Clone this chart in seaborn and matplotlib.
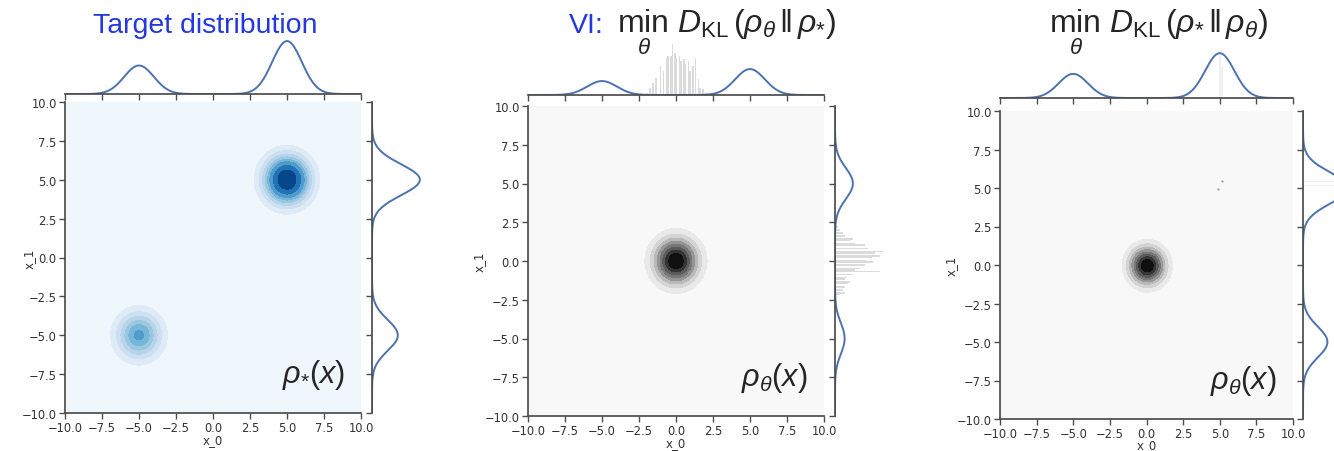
import numpy as np
import matplotlib
matplotlib.use("Agg")
import matplotlib.pyplot as plt
import seaborn as sns

# ---- values ----
# target distribution: two round gaussian modes
target_cx = [-5.0, 5.0]
target_cy = [-5.0, 5.0]
target_w = [0.35, 0.65]
target_sd = [1.0, 1.0]

# VI fit (reverse KL): one mode in the middle
vi_cx = [0.0]
vi_cy = [0.0]
vi_w = [1.0]
vi_sd = [1.0]

# forward KL fit
fk_cx = [0.05]
fk_cy = [-0.05]
fk_w = [1.0]
fk_sd = [0.82]

# sample histograms of the VI fit (density units)
vi_hist_x = [-1.99, -1.76, -1.54, -1.31, -1.04, -0.86, -0.63, -0.52, -0.34, -0.23,
             -0.07, 0.05, 0.23, 0.38, 0.50, 0.68, 0.84, 0.95, 1.13, 1.36,
             1.51, 1.67, 1.85, 2.08]
vi_hist_h = [0.02, 0.07, 0.12, 0.17, 0.29, 0.24, 0.37, 0.39, 0.39, 0.51,
             0.42, 0.37, 0.39, 0.34, 0.36, 0.31, 0.34, 0.24, 0.29, 0.37,
             0.16, 0.07, 0.06, 0.02]
vi_hist_y = [2.26, 2.05, 1.83, 1.61, 1.44, 1.29, 1.12, 0.97, 0.80, 0.65,
             0.54, 0.37, 0.22, 0.05, -0.10, -0.28, -0.43, -0.54, -0.71, -0.86,
             -1.03, -1.18, -1.35, -1.50, -1.68, -1.83, -2.04, -2.21]
vi_hist_yh = [0.05, 0.07, 0.12, 0.14, 0.26, 0.22, 0.29, 0.43, 0.48, 0.69,
              0.58, 0.65, 0.53, 0.46, 0.55, 0.43, 0.36, 0.29, 0.65, 0.26,
              0.17, 0.14, 0.22, 0.19, 0.14, 0.12, 0.14, 0.07]

# forward KL samples near the far mode
fk_hist_x = [4.95, 5.05, 5.2]
fk_hist_h = [0.28, 0.26, 0.18]
fk_hist_y = [5.1, 5.45]
fk_hist_yh = [0.4, 0.4]
fk_pts_x = [4.9, 5.13]
fk_pts_y = [4.93, 5.43]

ticks = [-10.0, -7.5, -5.0, -2.5, 0.0, 2.5, 5.0, 7.5, 10.0]

W, H = 1334, 452
BLUE = "#2438e0"
LINE = "#4c72b0"
HIST = "#d8d8d8"

sns.set_theme(style="ticks")
plt.rcParams["mathtext.fontset"] = "custom"
plt.rcParams["mathtext.rm"] = "Liberation Sans"
plt.rcParams["mathtext.it"] = "Liberation Sans:italic"
plt.rcParams["mathtext.bf"] = "Liberation Sans:bold"
plt.rcParams["font.family"] = ["DejaVu Sans"]

grid = np.linspace(-10, 10, 401)


def mix_2d(cx, cy, w, sd):
    xx, yy = np.meshgrid(grid, grid)
    z = np.zeros_like(xx)
    for a, b, k, s in zip(cx, cy, w, sd):
        z += k / (2 * np.pi * s**2) * np.exp(-((xx - a)**2 + (yy - b)**2) / (2 * s**2))
    return xx, yy, z


def mix_1d(c, w, sd):
    d = np.zeros_like(grid)
    for a, k, s in zip(c, w, sd):
        d += k / (np.sqrt(2 * np.pi) * s) * np.exp(-(grid - a)**2 / (2 * s**2))
    return d


def iso_levels(z, n=10):
    # same iso-proportion levels that seaborn's kdeplot uses
    vals = np.sort(z.ravel())[::-1]
    cum = np.cumsum(vals) / vals.sum()
    idx = np.searchsorted(cum, 1 - np.linspace(0, 1, n))
    lv = np.take(vals, idx, mode="clip")
    lv[0] = 0.0
    return np.unique(lv)


def px_axes(fig, x0, y0, x1, y1):
    return fig.add_axes([x0 / W, 1 - y1 / H, (x1 - x0) / W, (y1 - y0) / H])


def style_main(ax, ylab_x, xlab_y):
    ax.set_xlim(-10, 10)
    ax.set_ylim(-10, 10)
    ax.set_xticks(ticks)
    ax.set_yticks(ticks)
    ax.tick_params(labelsize=8.3, length=4, width=1, color=".3", labelcolor=".2", pad=2)
    ax.set_xlabel("x_0", fontsize=8.5, color=".2")
    ax.set_ylabel("x_1", fontsize=8.5, color=".2")
    ax.yaxis.set_label_coords(ylab_x, 0.5)
    ax.xaxis.set_label_coords(0.5, xlab_y)
    sns.despine(ax=ax)
    for s in ["left", "bottom"]:
        ax.spines[s].set_color(".3")


def style_top(ax, ymax):
    ax.set_xlim(-10, 10)
    ax.set_ylim(0, ymax)
    ax.set_xticks(ticks)
    ax.set_yticks([])
    ax.tick_params(labelbottom=False, length=4, width=1, color=".3")
    ax.set_xlabel("")
    ax.set_ylabel("")
    sns.despine(ax=ax, left=True)
    ax.spines["bottom"].set_color(".3")


def style_right(ax, xmax):
    ax.set_ylim(-10, 10)
    ax.set_xlim(0, xmax)
    ax.set_yticks(ticks)
    ax.set_xticks([])
    ax.tick_params(labelleft=False, length=4, width=1, color=".3")
    ax.set_xlabel("")
    ax.set_ylabel("")
    sns.despine(ax=ax, bottom=True)
    ax.spines["left"].set_color(".3")


def panel(fig, box, cx, cy, w, sd, cmap):
    main = px_axes(fig, *box["main"])
    top = px_axes(fig, *box["top"])
    right = px_axes(fig, *box["right"])
    xx, yy, z = mix_2d(cx, cy, w, sd)
    main.contourf(xx, yy, z, levels=iso_levels(z), cmap=cmap)
    tx = mix_1d(target_cx, target_w, target_sd)
    ty = mix_1d(target_cy, target_w, target_sd)
    sns.lineplot(x=grid, y=tx, ax=top, color=LINE, lw=1.4, estimator=None)
    sns.lineplot(x=ty, y=grid, ax=right, color=LINE, lw=1.4, orient="y", estimator=None)
    return main, top, right


fig = plt.figure(figsize=(W / 100, H / 100), dpi=100)
title_y = 1 - 33 / H

# panel 1: target
b1 = {"main": (65, 103, 361, 414), "top": (65, 35, 361, 95), "right": (372, 103, 432, 414)}
m1, t1, r1 = panel(fig, b1, target_cx, target_cy, target_w, target_sd, "Blues")
style_main(m1, (36 - 65) / 296, -(20 / 311))
style_top(t1, 0.294)
style_right(r1, 0.325)
m1.text(8.9, -7.5, r"$\rho_{*}(x)$", fontsize=22, ha="right", va="center")
fig.text(205 / W, title_y, "Target distribution", color=BLUE, fontsize=20.5,
         family="Liberation Sans", ha="center", va="baseline")

# panel 2: VI
b2 = {"main": (528, 107, 824, 417), "top": (528, 36, 824, 96), "right": (835, 107, 895, 417)}
m2, t2, r2 = panel(fig, b2, vi_cx, vi_cy, vi_w, vi_sd, "Greys")
sns.histplot(x=vi_hist_x, weights=vi_hist_h, binwidth=0.1, ax=t2, color=HIST,
             linewidth=0, alpha=0.9)
sns.histplot(y=vi_hist_y, weights=vi_hist_yh, binwidth=0.1, ax=r2, color=HIST,
             linewidth=0, alpha=0.9)
style_main(m2, (486 - 528) / 296, -(20 / 310))
style_top(t2, 0.6)
style_right(r2, 0.87)
m2.text(8.9, -7.5, r"$\rho_{\theta}(x)$", fontsize=22, ha="right", va="center")
fig.text(604 / W, title_y, "VI:", color=BLUE, fontsize=20.5,
         family="Liberation Sans", ha="right", va="baseline")
fig.text(617 / W, title_y, r"$\min_{\theta}\ D_{\mathrm{KL}}(\rho_{\theta}\,\|\,\rho_{*})$",
         fontsize=23, ha="left", va="baseline")

# panel 3: forward KL
b3 = {"main": (1000, 112, 1293, 420), "top": (1000, 39, 1293, 99), "right": (1303, 112, 1363, 420)}
m3, t3, r3 = panel(fig, b3, fk_cx, fk_cy, fk_w, fk_sd, "Greys")
sns.scatterplot(x=fk_pts_x, y=fk_pts_y, ax=m3, s=3, color="#b0a0a0", linewidth=0)
sns.histplot(x=fk_hist_x, weights=fk_hist_h, binwidth=0.08, ax=t3, color=HIST,
             linewidth=0, alpha=0.35)
sns.histplot(y=fk_hist_y, weights=fk_hist_yh, binwidth=0.08, ax=r3, color=HIST,
             linewidth=0, alpha=0.35)
style_main(m3, (958 - 1000) / 293, -(19.5 / 308))
style_top(t3, 0.347)
style_right(r3, 0.343)
m3.text(8.9, -7.5, r"$\rho_{\theta}(x)$", fontsize=22, ha="right", va="center")
fig.text(1158 / W, title_y, r"$\min_{\theta}\ D_{\mathrm{KL}}(\rho_{*}\,\|\,\rho_{\theta})$",
         fontsize=23, ha="center", va="baseline")

fig.savefig("out.png", dpi=100)
